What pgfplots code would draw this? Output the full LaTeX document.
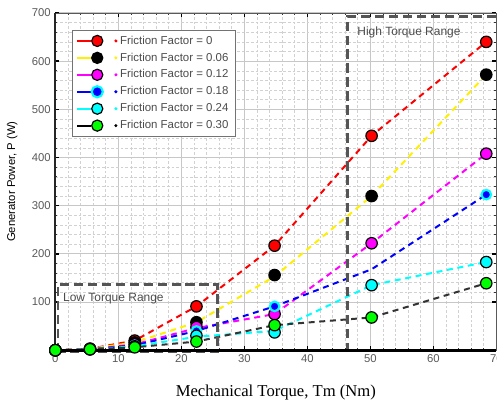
\documentclass[border=0pt]{standalone}
\usepackage{pgfplots}
\pgfplotsset{compat=1.18}
\usepackage{fontspec}
\setmainfont{Liberation Sans}
\newfontfamily\serifx{Liberation Serif}
\definecolor{rectgray}{RGB}{85,85,85}
\definecolor{yel}{RGB}{255,240,0}
\definecolor{mag}{RGB}{255,0,255}
\definecolor{cyn}{RGB}{0,255,255}
\definecolor{grn}{RGB}{0,255,0}
\definecolor{blu}{RGB}{0,0,255}
\definecolor{rd}{RGB}{255,0,0}
\pgfplotsset{
  legimg/.style n args={4}{legend image code/.code={
     \draw[#1, line width=1.5pt, solid] (0pt,0pt) -- (10pt,0pt);
     \fill[#1] (29pt,0pt) circle (0.7pt);
     \filldraw[fill=#2, draw=#3, line width=#4] (15pt,0pt) circle (4.2pt);
  }},
  dline/.style={#1, line width=1.5pt, dash pattern=on 4.5pt off 3.5pt},
  mk/.style n args={3}{only marks, mark=*, mark size=4.3pt, mark options={solid, fill=#1, draw=#2, line width=#3}},
}
\begin{document}
\begin{tikzpicture}
\begin{axis}[
  name=ax,
  scale only axis,
  width=331.5pt, height=253.5pt,
  xmin=0, xmax=70, ymin=0, ymax=700,
  xtick={0,10,...,70},
  ytick={100,200,...,700},
  minor x tick num=4,
  minor y tick num=4,
  grid=both,
  major grid style={black!22, line width=0.8pt},
  minor grid style={black!18, line width=0.4pt, dash pattern=on 2pt off 1.5pt},
  tick align=inside,
  major tick length=3pt,
  minor tick length=1.5pt,
  every major tick/.style={black, line width=1pt},
  every minor tick/.style={black!80, line width=0.5pt},
  axis line style={draw=black!65, line width=0.7pt},
  /pgf/number format/assume math mode=true,
  tick label style={font=\fontsize{8.5}{10}\selectfont, text=black!65},
  xlabel={\serifx Mechanical Torque, Tm (Nm)},
  xlabel style={font=\fontsize{12.5}{14}\selectfont, at={(axis description cs:0.5,-0.124)}, anchor=center},
  ylabel={Generator Power, P (W)},
  ylabel style={font=\fontsize{8.5}{9}\selectfont, at={(axis description cs:-0.098,0.5)}, anchor=center},
  clip=false,
  legend style={at={(axis description cs:0.0373,0.9497)}, anchor=north west,
    draw=black!55, line width=0.8pt, fill=white,
    font=\fontsize{8.6}{9}\selectfont, text=black!70,
    row sep=1pt, inner xsep=3pt, inner ysep=2pt},
  legend cell align=left,
]
% dashed lines (through the points)
\addplot[dline=rd, forget plot] coordinates {(0,0) (5.5,3) (12.6,20) (22.4,91) (34.8,217) (50.2,445) (68.4,640)};
\addplot[dline=yel, forget plot] coordinates {(0,0) (5.5,3) (12.6,16) (22.4,58) (34.8,153) (50.2,320) (68.4,572)};
\addplot[dline=mag, forget plot] coordinates {(0,0) (5.5,2) (12.6,12) (22.4,46) (34.8,75) (50.2,222) (68.4,408)};
\addplot[dline=blu, forget plot] coordinates {(0,0) (5.5,2) (12.6,10) (22.4,40) (34.8,91) (50.2,168) (68.4,323)};
\addplot[dline=cyn, forget plot] coordinates {(0,0) (5.5,2) (12.6,8) (22.4,28) (34.8,40) (50.2,135) (68.4,183)};
\addplot[dline=black!80, forget plot] coordinates {(0,0) (5.5,2) (12.6,6) (22.4,18) (34.8,52) (50.2,68) (68.4,139)};
% range boxes
\draw[rectgray, line width=2pt, dash pattern=on 7pt off 3.5pt] (axis cs:0.4,-4) rectangle (axis cs:25.7,137);
\draw[rectgray, line width=2pt, dash pattern=on 7pt off 3.5pt] (axis cs:46.4,-4) -- (axis cs:46.4,693) -- (axis cs:70,693);
\node[anchor=west, font=\fontsize{9}{10}\selectfont, text=black!70, inner sep=0pt] at (axis cs:1.2,108) {Low Torque Range};
\node[anchor=west, font=\fontsize{9}{10}\selectfont, text=black!70, inner sep=0pt] at (axis cs:47.9,660) {High Torque Range};
% markers
\addplot[mk={rd}{black}{0.9pt}, legimg={rd}{rd}{black}{0.9pt}] coordinates {(0,0) (5.5,3) (12.6,20) (22.4,91) (34.8,217) (50.2,445) (68.4,640)};
\addlegendentry{Friction Factor = 0}
\addplot[mk={black}{black}{0.9pt}, legimg={yel}{black}{black}{0.9pt}] coordinates {(0,0) (5.5,3) (12.6,16) (22.4,58) (34.8,156) (50.2,320) (68.4,572)};
\addlegendentry{Friction Factor = 0.06}
\addplot[mk={mag}{black}{0.9pt}, legimg={mag}{mag}{black}{0.9pt}] coordinates {(0,0) (5.5,2) (12.6,12) (22.4,48) (34.8,75) (50.2,222) (68.4,408)};
\addlegendentry{Friction Factor = 0.12}
\addplot[only marks, mark=*, mark size=3.6pt, mark options={solid, fill=blu, draw=cyn, line width=1.6pt}, legimg={blu}{blu}{cyn}{1.6pt}] coordinates {(0,0) (5.5,2) (12.6,10) (22.4,40) (34.8,91) (68.4,323)};
\addlegendentry{Friction Factor = 0.18}
\addplot[mk={cyn}{black}{0.9pt}, legimg={cyn}{cyn}{black}{0.9pt}] coordinates {(0,0) (5.5,2) (12.6,8) (22.4,30) (34.8,37) (50.2,135) (68.4,183)};
\addlegendentry{Friction Factor = 0.24}
\addplot[mk={grn}{black}{0.9pt}, legimg={black}{grn}{black}{0.9pt}] coordinates {(0,0) (5.5,2) (12.6,6) (22.4,18) (34.8,52) (50.2,68) (68.4,139)};
\addlegendentry{Friction Factor = 0.30}
% heavy left and bottom axis lines
\draw[black!85, line width=1.3pt] (rel axis cs:0,1) -- (rel axis cs:0,0);
\draw[black, line width=2pt] (rel axis cs:0,0) -- (rel axis cs:1,0);
\coordinate (ll) at (rel axis cs:0,0);
\coordinate (ur) at (rel axis cs:1,1);
\end{axis}
\pgfresetboundingbox
\path[use as bounding box] ([shift={(-41.6pt,-39pt)}]ll) rectangle ([shift={(0.5pt,9.75pt)}]ur);
\end{tikzpicture}
\end{document}
